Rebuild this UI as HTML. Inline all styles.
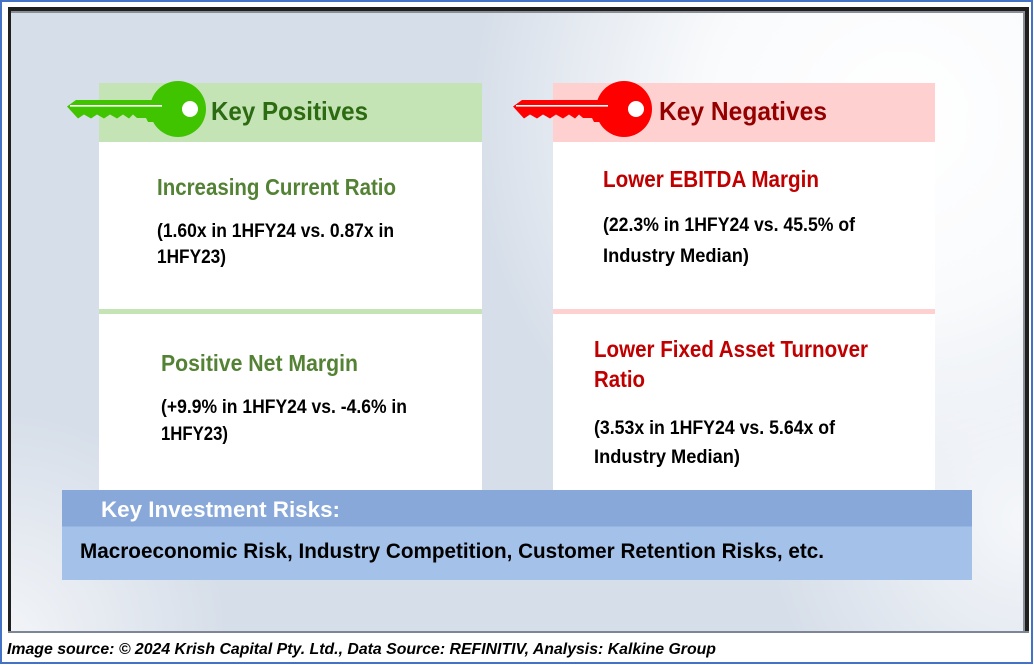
<!DOCTYPE html>
<html>
<head>
<meta charset="utf-8">
<style>
html,body{margin:0;padding:0;background:#fff;}
svg{display:block;}
text{font-family:"Liberation Sans",Arial,sans-serif;font-weight:bold;}
</style>
</head>
<body>
<svg width="1034" height="665" viewBox="0 0 1034 665" xmlns="http://www.w3.org/2000/svg">
<defs>
<radialGradient id="g1" cx="900" cy="120" r="430" gradientUnits="userSpaceOnUse">
<stop offset="0" stop-color="#ffffff" stop-opacity="1"/>
<stop offset="0.45" stop-color="#fbfcfd" stop-opacity="0.95"/>
<stop offset="1" stop-color="#ffffff" stop-opacity="0"/>
</radialGradient>
<radialGradient id="g2" cx="1025" cy="520" r="260" gradientUnits="userSpaceOnUse">
<stop offset="0" stop-color="#f5f7fa" stop-opacity="1"/>
<stop offset="1" stop-color="#f5f7fa" stop-opacity="0"/>
</radialGradient>
<radialGradient id="g3" cx="0" cy="640" r="230" gradientUnits="userSpaceOnUse">
<stop offset="0" stop-color="#f3f5f8" stop-opacity="1"/>
<stop offset="1" stop-color="#f3f5f8" stop-opacity="0"/>
</radialGradient>
</defs>

<rect x="0" y="0" width="1034" height="665" fill="#ffffff"/>
<rect x="1" y="1" width="1031" height="662" fill="none" stroke="#4472c4" stroke-width="2"/>

<rect x="8" y="7" width="1021" height="626" fill="#d6dee9"/>
<rect x="8" y="7" width="1021" height="626" fill="url(#g1)"/>
<rect x="8" y="7" width="1021" height="626" fill="url(#g2)"/>
<rect x="8" y="7" width="1021" height="626" fill="url(#g3)"/>

<rect x="8" y="7" width="1021" height="4" fill="#1f1f1f"/>
<rect x="11" y="11" width="1014" height="2" fill="#8a8f97"/>
<rect x="8" y="7" width="3" height="626" fill="#1f1f1f"/>
<rect x="1025" y="7" width="4" height="626" fill="#1f1f1f"/>
<rect x="1023" y="11" width="2" height="620" fill="#8a8f97"/>
<rect x="8" y="631" width="1021" height="2" fill="#7d8695"/>

<rect x="99" y="142" width="383" height="348" fill="#ffffff"/>
<rect x="99" y="83" width="383" height="59" fill="#c5e4b5"/>
<rect x="99" y="309" width="383" height="5" fill="#c5e4b5"/>

<rect x="553" y="142" width="382" height="348" fill="#ffffff"/>
<rect x="553" y="83" width="382" height="59" fill="#ffd0d0"/>
<rect x="553" y="309" width="382" height="5" fill="#ffd0d0"/>

<g fill="#40c400">
<path d="M67,106.5 L76,100 L165,100 L165,122 L148,122 L146,118 L137,118 L133,114.5 L129,118.5 L123,114.5 L117,118.5 L110,114.5 L104,118.5 L97,114.5 L91,118.5 L84,114.5 L78,118.5 L72,112 Z"/>
<circle cx="178" cy="109" r="28"/>
</g>
<line x1="70" y1="105.8" x2="162" y2="105.8" stroke="#ffffff" stroke-width="1.6"/>
<circle cx="190" cy="109" r="8" fill="#ffffff"/>

<g transform="translate(446,0)">
<g fill="#ff0000">
<path d="M67,106.5 L76,100 L165,100 L165,122 L148,122 L146,118 L137,118 L133,114.5 L129,118.5 L123,114.5 L117,118.5 L110,114.5 L104,118.5 L97,114.5 L91,118.5 L84,114.5 L78,118.5 L72,112 Z"/>
<circle cx="178" cy="109" r="28"/>
</g>
<line x1="70" y1="105.8" x2="162" y2="105.8" stroke="#ffffff" stroke-width="1.6"/>
<circle cx="190" cy="109" r="8" fill="#ffffff"/>
</g>

<text x="211" y="120" font-size="26" fill="#2d6b12" textLength="157" lengthAdjust="spacingAndGlyphs">Key Positives</text>
<text x="659" y="120" font-size="26" fill="#940000" textLength="168" lengthAdjust="spacingAndGlyphs">Key Negatives</text>

<text x="157" y="195" font-size="23" fill="#548235" textLength="239" lengthAdjust="spacingAndGlyphs">Increasing Current Ratio</text>
<text x="157" y="237" font-size="19" fill="#000000" textLength="237" lengthAdjust="spacingAndGlyphs">(1.60x in 1HFY24 vs. 0.87x in</text>
<text x="157" y="263" font-size="19" fill="#000000" textLength="69" lengthAdjust="spacingAndGlyphs">1HFY23)</text>

<text x="161" y="371" font-size="23" fill="#548235" textLength="197" lengthAdjust="spacingAndGlyphs">Positive Net Margin</text>
<text x="161" y="413" font-size="19" fill="#000000" textLength="246" lengthAdjust="spacingAndGlyphs">(+9.9% in 1HFY24 vs. -4.6% in</text>
<text x="161" y="440" font-size="19" fill="#000000" textLength="67" lengthAdjust="spacingAndGlyphs">1HFY23)</text>

<text x="603" y="187" font-size="23" fill="#c00000" textLength="216" lengthAdjust="spacingAndGlyphs">Lower EBITDA Margin</text>
<text x="603" y="231" font-size="19" fill="#000000" textLength="252" lengthAdjust="spacingAndGlyphs">(22.3% in 1HFY24 vs. 45.5% of</text>
<text x="603" y="262" font-size="19" fill="#000000" textLength="146" lengthAdjust="spacingAndGlyphs">Industry Median)</text>

<text x="594" y="357" font-size="23" fill="#c00000" textLength="274" lengthAdjust="spacingAndGlyphs">Lower Fixed Asset Turnover</text>
<text x="594" y="387" font-size="23" fill="#c00000" textLength="51" lengthAdjust="spacingAndGlyphs">Ratio</text>
<text x="594" y="434" font-size="19" fill="#000000" textLength="241" lengthAdjust="spacingAndGlyphs">(3.53x in 1HFY24 vs. 5.64x of</text>
<text x="594" y="463" font-size="19" fill="#000000" textLength="146" lengthAdjust="spacingAndGlyphs">Industry Median)</text>

<rect x="62" y="490" width="910" height="37" fill="#87a8d9"/>
<rect x="62" y="527" width="910" height="53" fill="#a4c1e9"/>
<rect x="62" y="526" width="910" height="1" fill="#98b5e2"/>
<text x="101" y="517" font-size="22" fill="#ffffff" textLength="239" lengthAdjust="spacingAndGlyphs">Key Investment Risks:</text>
<text x="80" y="558" font-size="21" fill="#000000" textLength="744" lengthAdjust="spacingAndGlyphs">Macroeconomic Risk, Industry Competition, Customer Retention Risks, etc.</text>

<text x="7" y="654" font-size="15.5" font-style="italic" fill="#000000" textLength="709" lengthAdjust="spacingAndGlyphs">Image source: © 2024 Krish Capital Pty. Ltd., Data Source: REFINITIV, Analysis: Kalkine Group</text>
</svg>
</body>
</html>
